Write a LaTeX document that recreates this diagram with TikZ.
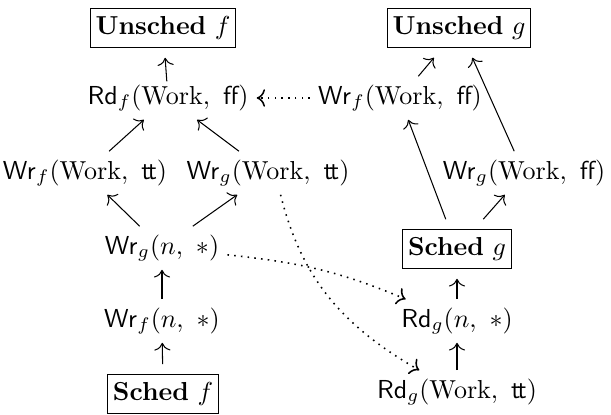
\documentclass[tikz,border=0pt]{standalone}
\usetikzlibrary{arrows.meta}
\tikzset{
  lbl/.style={inner sep=3pt},
  statebox/.style={draw, line width=0.45pt, inner xsep=2pt, inner ysep=3pt, outer sep=4pt},
  arr/.style={-{Computer Modern Rightarrow[scale=1.2]}, line width=0.4pt},
  darr/.style={-{Computer Modern Rightarrow[scale=1.1, line width=0.6pt]}, dotted, line width=0.6pt},
}
\newcommand{\opRd}{\mathsf{Rd}}
\newcommand{\opWr}{\mathsf{Wr}}
\newcommand{\vT}{\textsf{t\kern-0.12em t}}
\newcommand{\vF}{\textsf{ff}}
\begin{document}
\begin{tikzpicture}[x=0.3846pt,y=-0.3846pt]
\useasboundingbox (0,0) rectangle (611,415);
% upper states
\node[statebox] (uf) at (163,28) {\textbf{Unsched} $f$};
\node[statebox] (ug) at (459,28) {\textbf{Unsched} $g$};
% reads and writes
\node[lbl] (rdf)   at (168,98)  {$\opRd_f(\mathrm{Work},\ \vF)$};
\node[lbl] (wrfff) at (400,98)  {$\opWr_f(\mathrm{Work},\ \vF)$};
\node[lbl] (wrftt) at (85,173)  {$\opWr_f(\mathrm{Work},\ \vT)$};
\node[lbl] (wrgtt) at (268,173) {$\opWr_g(\mathrm{Work},\ \vT)$};
\node[lbl] (wrgff) at (524,173) {$\opWr_g(\mathrm{Work},\ \vF)$};
\node[lbl] (wrgn)  at (162,248) {$\opWr_g(n,\ *)$};
\node[statebox] (sg) at (457,249) {\textbf{Sched} $g$};
\node[lbl] (wrfn)  at (162,321) {$\opWr_f(n,\ *)$};
\node[lbl] (rdgn)  at (457,321) {$\opRd_g(n,\ *)$};
\node[statebox] (sf) at (163,394) {\textbf{Sched} $f$};
\node[lbl] (rdgw)  at (457,392) {$\opRd_g(\mathrm{Work},\ \vT)$};
% solid edges
\draw[arr, shorten <=-2pt] (rdf) -- (uf);
\draw[arr] (wrftt) -- (rdf);
\draw[arr] (wrgtt) -- (rdf);
\draw[arr] (wrgn) -- (wrftt);
\draw[arr] (wrgn) -- (wrgtt);
\draw[arr] (wrfn) -- (wrgn);
\draw[arr] (sf) -- (wrfn);
\draw[arr] (wrfff) -- (ug);
\draw[arr] (wrgff) -- (ug);
\draw[arr] (sg) -- (wrfff);
\draw[arr] (sg) -- (wrgff);
\draw[arr] (rdgn) -- (sg);
\draw[arr] (rdgw) -- (rdgn);
% dotted edges
\draw[darr] (wrfff) -- (rdf);
\draw[darr] (wrgn) to[out=-6,in=157] (rdgn);
\draw[darr] (wrgtt.-60) to[out=-76,in=150] (rdgw);
\end{tikzpicture}
\end{document}
